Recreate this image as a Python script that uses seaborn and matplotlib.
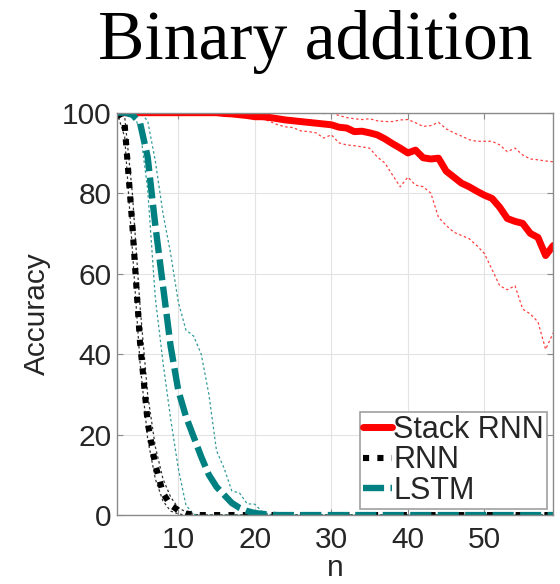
#!/usr/bin/env python3
"""
Binary addition: accuracy vs sequence length n for Stack RNN, RNN and LSTM.
Thick line = mean, thin dotted lines = spread across runs.
"""

import numpy as np
import pandas as pd
import matplotlib
matplotlib.use("Agg")
import matplotlib.pyplot as plt
import seaborn as sns

# n = 2 .. 59
n_values = list(range(2, 60))

stack_rnn = [100, 100, 100, 100, 100, 100, 100, 100, 100, 100, 100, 100, 100, 100,
             99.8, 99.7, 99.5, 99.3, 99.0, 99.0, 98.8, 98.5, 98.2, 98.0, 97.8, 97.6,
             97.4, 97.2, 97.0, 96.4, 96.2, 95.3, 95.4, 95.0, 94.5, 93.5, 92.3, 91.2,
             90.0, 90.7, 88.8, 88.5, 88.7, 85.5, 84.0, 82.5, 81.6, 80.5, 79.5, 78.7,
             76.5, 73.7, 73.0, 72.5, 70.0, 69.0, 64.5, 67.0]
stack_rnn_hi = [100] * 27 + [99.8, 100, 99.3, 98.8, 98.5, 98.3, 98.5, 98.0, 97.8,
                             97.8, 98.2, 98.3, 97.5, 96.6, 96.8, 97.6, 96.0, 95.0,
                             94.2, 93.3, 92.9, 92.9, 92.9, 92.0, 90.3, 91.2, 89.5,
                             88.5, 88.3, 88.0, 87.8]
stack_rnn_lo = [100] * 14 + [99.8, 99.6, 99.4, 99.2, 99.0, 98.5, 97.8, 97.0, 96.5,
                             96.3, 95.5, 95.3, 95.0, 93.7, 94.5, 92.5, 92.0, 91.8,
                             91.5, 91.2, 89.0, 87.5, 84.5, 81.6, 84.0, 82.0, 81.6,
                             80.0, 74.0, 72.0, 70.3, 69.5, 68.7, 67.0, 65.0, 61.0,
                             57.0, 56.0, 57.0, 51.2, 50.0, 48.0, 41.2, 45.3]

rnn = [100, 97, 72, 43, 23, 12.5, 5.5, 2.5, 1.2, 0.4, 0.1] + [0] * 47
rnn_hi = [100, 99, 80, 52, 30, 17, 9, 4.5, 1.8, 0.8, 0.2] + [0] * 47
rnn_lo = [100, 94, 66, 38, 19, 9, 3.5, 1.0, 0.3, 0] + [0] * 48

lstm = [100, 100, 99.5, 97.5, 89, 72, 57, 42, 31, 24.5, 19.5, 14.5, 10, 7, 5, 3,
        1.8, 1.0, 0.5, 0.3, 0.1] + [0] * 37
lstm_hi = [100, 100, 100, 100, 98, 88, 75, 65, 53, 46, 44.5, 40, 30, 16, 11.6, 6,
           5.5, 2.8, 2.7, 0.8, 0.2] + [0] * 37
lstm_lo = [100, 100, 100, 96, 81, 54, 38, 24, 11.6, 2.5, 0.2] + [0] * 47

RED = "#ff0000"
BLACK = "#000000"
TEAL = "#008080"

sns.set_style("whitegrid")
plt.rcParams['font.family'] = ['Liberation Sans', 'DejaVu Sans']

fig = plt.figure(figsize=(5.6, 5.84), dpi=100)
ax = fig.add_axes([0.209, 0.118, 0.779, 0.689])

# thin spread lines first
for vals, color, alpha in [(stack_rnn_hi, RED, 0.75), (stack_rnn_lo, RED, 0.75),
                           (rnn_hi, BLACK, 0.8), (rnn_lo, BLACK, 0.8),
                           (lstm_hi, TEAL, 0.8), (lstm_lo, TEAL, 0.8)]:
    line = sns.lineplot(x=n_values, y=vals, ax=ax, color=color, linewidth=0.9,
                        alpha=alpha, legend=False)
    line.lines[-1].set_dashes((2, 2))

# main curves
sns.lineplot(x=n_values, y=stack_rnn, ax=ax, color=RED, linewidth=5.0,
             label="Stack RNN")
sns.lineplot(x=n_values, y=rnn, ax=ax, color=BLACK, linewidth=4.4, label="RNN")
ax.lines[-1].set_dashes((1, 1.35))
ax.lines[-1].set_dash_capstyle("butt")
sns.lineplot(x=n_values, y=lstm, ax=ax, color=TEAL, linewidth=4.6, label="LSTM")
ax.lines[-1].set_dashes((3.3, 1.0))
ax.lines[-1].set_dash_capstyle("butt")

ax.set_xlim(2, 59)
ax.set_ylim(0, 100)
ax.set_xticks([10, 20, 30, 40, 50])
ax.set_yticks([0, 20, 40, 60, 80, 100])
ax.grid(True, color="#e3e3e3", linewidth=0.8)
for side in ["left", "right", "top", "bottom"]:
    ax.spines[side].set_visible(True)
    ax.spines[side].set_color("#8a8a8a")
    ax.spines[side].set_linewidth(1.0)
ax.tick_params(axis="both", direction="in", length=4, width=0.8, color="#8a8a8a",
               labelsize=21.5, labelcolor="#262626", top=True, right=True,
               left=True, bottom=True)
ax.tick_params(axis="x", pad=8)
ax.tick_params(axis="y", pad=4)

ax.set_xlabel("n", fontsize=21.5, color="#262626", labelpad=0)
ax.set_ylabel("Accuracy", fontsize=21.5, color="#262626", labelpad=8)
fig.text(0.563, 0.928, "Binary addition", ha="center", va="center",
         fontsize=50, family=["Liberation Serif", "DejaVu Serif"], color="black")

leg = ax.legend(loc="lower right", fontsize=22, frameon=True, fancybox=False,
                framealpha=1, edgecolor="#a0a0a0", handlelength=0.95,
                handletextpad=0.05, labelspacing=0.02, borderpad=0.1,
                borderaxespad=0.2)
leg.get_frame().set_linewidth(1.2)

plt.savefig("out.png", dpi=100)
